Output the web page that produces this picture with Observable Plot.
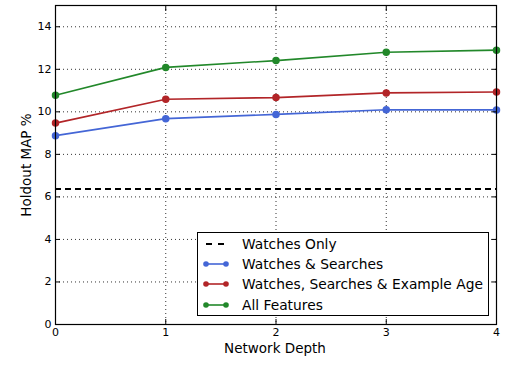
<!DOCTYPE html>
<html><head><meta charset="utf-8">
<script src="https://cdn.jsdelivr.net/npm/d3@7"></script>
<script src="https://cdn.jsdelivr.net/npm/@observablehq/plot@0.6"></script>
<style>
body{margin:0;background:#fff;font-family:"DejaVu Sans",sans-serif;}
#wrap{position:relative;width:528px;height:369px;}
#legend{position:absolute;left:197px;top:232px;width:292px;height:84px;border:1px solid #000;background:#fff;font-size:13.8px;color:#000;box-sizing:border-box;}
#legend .row{position:absolute;left:0;height:20px;display:flex;align-items:center;}
#legend svg{margin-left:5px;margin-right:13px;}
</style></head>
<body><div id="wrap"></div>
<script>
const depth = [0, 1, 2, 3, 4];
const watchesOnly = 6.37;
const watchesSearches = [8.88, 9.68, 9.88, 10.1, 10.09];
const watchesSearchesAge = [9.47, 10.59, 10.67, 10.89, 10.93];
const allFeatures = [10.78, 12.09, 12.41, 12.8, 12.9];
const seriesNames = ["Watches Only", "Watches & Searches", "Watches, Searches & Example Age", "All Features"];
const seriesColors = ["#000000", "#4466d6", "#b22528", "#22882a"];
const xTicks = [0, 1, 2, 3, 4];
const yTicks = [0, 2, 4, 6, 8, 10, 12, 14];

const rows = [];
[watchesSearches, watchesSearchesAge, allFeatures].forEach((vals, i) => {
  vals.forEach((v, j) => rows.push({series: seriesNames[i + 1], depth: depth[j], value: v}));
});
const color = d3.scaleOrdinal(seriesNames, seriesColors);

const chart = Plot.plot({
  width: 528, height: 369,
  marginLeft: 55, marginRight: 32, marginTop: 5, marginBottom: 45,
  style: {fontFamily: "DejaVu Sans, sans-serif", fontSize: "11px", background: "#fff"},
  x: {domain: [0, 4], ticks: xTicks},
  y: {domain: [0, 15], ticks: yTicks},
  marks: [
    Plot.gridX(xTicks, {stroke: "#000", strokeOpacity: 0.8, strokeDasharray: "1,3"}),
    Plot.gridY(yTicks, {stroke: "#000", strokeOpacity: 0.8, strokeDasharray: "1,3"}),
    Plot.ruleY([watchesOnly], {stroke: "#000", strokeWidth: 2, strokeDasharray: "6,4"}),
    Plot.line(rows, {x: "depth", y: "value", z: "series", stroke: d => color(d.series), strokeWidth: 1.6}),
    Plot.dot(rows, {x: "depth", y: "value", fill: d => color(d.series), stroke: d => color(d.series), r: 3}),
    Plot.axisX(xTicks, {anchor: "bottom", tickSize: 0, tickPadding: 4, label: null, fontSize: 11}),
    Plot.axisY(yTicks, {anchor: "left", tickSize: 0, tickPadding: 4, label: null, fontSize: 11}),
    Plot.axisX(xTicks, {anchor: "bottom", tickSize: -5, tickFormat: () => "", label: null}),
    Plot.axisX(xTicks, {anchor: "top", tickSize: -5, tickFormat: () => "", label: null}),
    Plot.axisY(yTicks, {anchor: "left", tickSize: -5, tickFormat: () => "", label: null}),
    Plot.axisY(yTicks, {anchor: "right", tickSize: -5, tickFormat: () => "", label: null}),
    Plot.frame({stroke: "#000", strokeWidth: 1.2})
  ]
});
const wrap = document.getElementById("wrap");
wrap.appendChild(chart);

const svg = d3.select(chart);
svg.append("text").attr("x", 275).attr("y", 353).attr("text-anchor", "middle")
  .attr("font-size", 13.5).attr("fill", "#000").text("Network Depth");
svg.append("text").attr("transform", "translate(31,165) rotate(-90)").attr("text-anchor", "middle")
  .attr("font-size", 13.5).attr("fill", "#000").text("Holdout MAP %");

const lg = document.createElement("div");
lg.id = "legend";
seriesNames.forEach((name, i) => {
  const r = document.createElement("div");
  r.className = "row";
  r.style.top = (1 + i * 20.2) + "px";
  const c = seriesColors[i];
  const sw = i === 0
    ? `<svg width="26" height="10"><line x1="3" x2="23" y1="5" y2="5" stroke="${c}" stroke-width="2" stroke-dasharray="6,6"/></svg>`
    : `<svg width="26" height="10"><line x1="3" x2="23" y1="5" y2="5" stroke="${c}" stroke-width="1.6"/><circle cx="3" cy="5" r="2.8" fill="${c}"/><circle cx="23" cy="5" r="2.8" fill="${c}"/></svg>`;
  r.innerHTML = sw + `<span>${name}</span>`;
  lg.appendChild(r);
});
wrap.appendChild(lg);
</script></body></html>
